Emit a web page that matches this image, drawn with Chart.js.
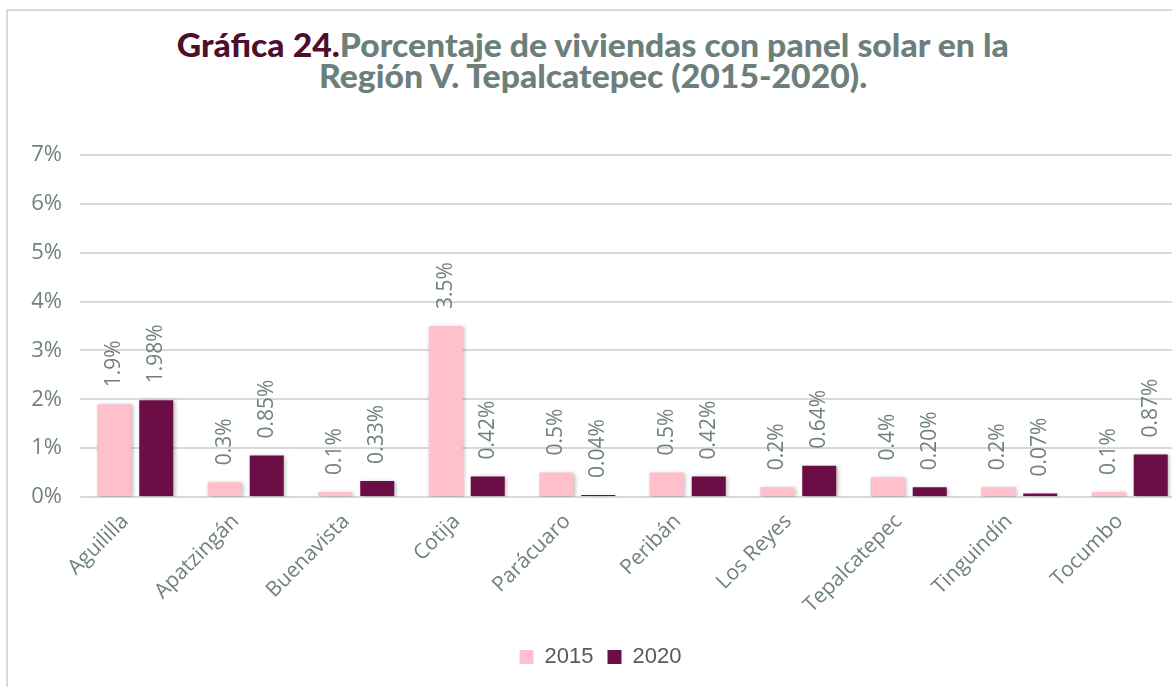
<!DOCTYPE html>
<html>
<head>
<meta charset="utf-8">
<script src="https://cdn.jsdelivr.net/npm/chart.js@4.4.1/dist/chart.umd.min.js"></script>
<style>
  html, body { margin: 0; padding: 0; background: #ffffff; overflow: hidden; width: 1172px; height: 687px; }
  #frame { position: absolute; left: 6px; top: 9px; width: 1300px; height: 800px; border: 2px solid #d9d9d9; box-sizing: border-box; }
  #title { position: absolute; left: 0; top: 29px; width: 1186px; text-align: center; font-family: Lato, sans-serif; font-weight: 900; font-size: 32px; line-height: 31px; color: #6d7f7b; }
  #title .line { display: inline-block; white-space: nowrap; transform-origin: center center; }
  #title .lead { color: #4d0f2b; }
  #wrap { position: absolute; left: 0; top: 0; }
</style>
</head>
<body>
<div id="frame"></div>
<div id="title">
  <span class="line" id="l1"><span class="lead">Gráfica 24.</span>Porcentaje de viviendas con panel solar en la</span><br>
  <span class="line" id="l2">Región V. Tepalcatepec (2015-2020).</span>
</div>
<div id="wrap"><canvas id="c" width="1190" height="687"></canvas></div>
<script>
// ---- data ----
const categories = ["Aguililla", "Apatzingán", "Buenavista", "Cotija", "Parácuaro", "Peribán", "Los Reyes", "Tepalcatepec", "Tinguindín", "Tocumbo"];
const seriesNames = ["2015", "2020"];
const values2015 = [1.9, 0.3, 0.1, 3.5, 0.5, 0.5, 0.2, 0.4, 0.2, 0.1];
const values2020 = [1.98, 0.85, 0.33, 0.42, 0.04, 0.42, 0.64, 0.20, 0.07, 0.87];
const labelDecimals = [1, 2];
const yTicks = [0, 1, 2, 3, 4, 5, 6, 7];

// scale title lines to condensed width
(function () {
  const l1 = document.getElementById('l1');
  const l2 = document.getElementById('l2');
  const s = 832 / l1.getBoundingClientRect().width;
  l1.style.transform = 'scaleX(' + s + ')';
  l2.style.transform = 'scaleX(' + s + ')';
})();

const textGray = '#71827e';
const axisFont = '"Open Sans", sans-serif';

const barEffects = {
  id: 'barEffects',
  beforeDatasetsDraw(chart) {
    const ctx = chart.ctx;
    ctx.save();
    ctx.shadowColor = 'rgba(0,0,0,0.28)';
    ctx.shadowBlur = 4;
    ctx.shadowOffsetX = 1.5;
    ctx.shadowOffsetY = 1;
  },
  afterDatasetsDraw(chart) {
    const ctx = chart.ctx;
    ctx.restore();
    ctx.save();
    ctx.font = '400 21px ' + axisFont;
    ctx.fillStyle = textGray;
    ctx.textAlign = 'left';
    ctx.textBaseline = 'middle';
    chart.data.datasets.forEach((ds, di) => {
      const meta = chart.getDatasetMeta(di);
      meta.data.forEach((bar, i) => {
        const txt = ds.data[i].toFixed(labelDecimals[di]) + '%';
        ctx.save();
        ctx.translate(bar.x, bar.y - 17);
        ctx.rotate(-Math.PI / 2);
        ctx.fillText(txt, 0, 0);
        ctx.restore();
      });
    });
    ctx.restore();
  }
};

new Chart(document.getElementById('c'), {
  type: 'bar',
  data: {
    labels: categories,
    datasets: [
      { label: seriesNames[0], data: values2015, backgroundColor: '#ffc0cb', borderWidth: 0 },
      { label: seriesNames[1], data: values2020, backgroundColor: '#6b0e46', borderWidth: 0 }
    ]
  },
  options: {
    responsive: false,
    animation: false,
    devicePixelRatio: 1,
    layout: { padding: { top: 155, left: 16, right: 5, bottom: 9 } },
    datasets: { bar: { categoryPercentage: 0.76, barPercentage: 0.81 } },
    plugins: {
      title: { display: false },
      tooltip: { enabled: false },
      legend: {
        position: 'bottom',
        labels: {
          boxWidth: 14, boxHeight: 14, padding: 14,
          color: '#595959',
          font: { family: '"Liberation Sans", Arial, sans-serif', size: 22 }
        }
      }
    },
    scales: {
      x: {
        grid: { display: false },
        border: { display: false },
        ticks: {
          autoSkip: false, minRotation: 45, maxRotation: 45, padding: 4, labelOffset: -10,
          color: textGray, font: { family: axisFont, size: 21, weight: 400 }
        },
        afterFit(scale) { scale.height = 135; }
      },
      y: {
        min: 0, max: 7,
        afterBuildTicks(scale) { scale.ticks = yTicks.map(v => ({ value: v })); },
        grid: { color: '#d9d9d9', lineWidth: 2, drawTicks: false },
        border: { display: false },
        ticks: {
          padding: 18, color: textGray,
          font: { family: axisFont, size: 22, weight: 400 },
          callback: v => v + '%'
        },
        afterFit(scale) { scale.width = 64; }
      }
    }
  },
  plugins: [barEffects]
});
</script>
</body>
</html>
